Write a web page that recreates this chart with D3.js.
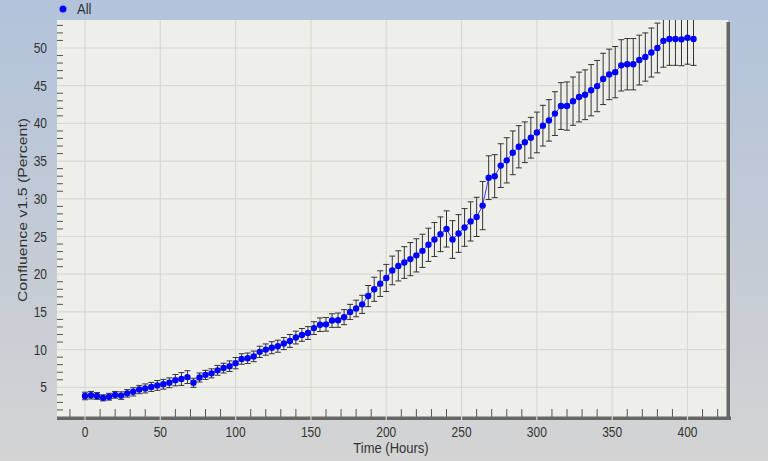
<!DOCTYPE html>
<html>
<head>
<meta charset="utf-8">
<script src="https://cdnjs.cloudflare.com/ajax/libs/d3/7.8.5/d3.min.js"></script>
<style>
  body { margin: 0; padding: 0; overflow: hidden; }
  text { font-family: "Liberation Sans", Arial, sans-serif; fill: #333; }
</style>
</head>
<body>
<script>
// time of each scan (hours)
var times = [0,4,8,12,16,20,24,28,32,36,40,44,48,52,56,60,64,68,72,76,80,84,88,92,96,100,
  104,108,112,116,120,124,128,132,136,140,144,148,152,156,160,164,168,172,176,180,184,188,192,196,200,
  204,208,212,216,220,224,228,232,236,240,244,248,252,256,260,264,268,272,276,280,284,288,292,296,300,
  304,308,312,316,320,324,328,332,336,340,344,348,352,356,360,364,368,372,376,380,384,388,392,396,400,404];

// confluence mean (percent)
var confluence = [3.85,3.95,3.85,3.6,3.75,4.0,3.9,4.2,4.4,4.7,4.85,5.05,5.25,5.4,5.6,5.95,6.1,6.35,5.6,6.3,
  6.65,6.85,7.25,7.55,7.8,8.2,8.75,8.85,9.1,9.7,10.0,10.25,10.45,10.8,11.15,11.6,11.95,12.2,12.85,13.3,
  13.35,13.85,13.9,14.3,15.0,15.45,16.0,17.1,18.0,18.75,19.5,20.5,21.1,21.55,22.0,22.5,23.1,23.9,24.6,25.3,
  26.0,24.6,25.4,26.2,27.0,27.6,29.1,32.8,33.0,34.4,35.1,36.1,36.9,37.5,38.1,38.8,39.7,40.4,41.3,42.3,
  42.3,42.95,43.5,43.8,44.4,44.95,45.9,46.5,46.8,47.7,47.85,47.85,48.4,48.8,49.4,50.0,50.95,51.2,51.2,51.15,
  51.35,51.2];

// error bar half height (percent)
var errors = [0.5,0.5,0.45,0.4,0.45,0.45,0.5,0.5,0.55,0.55,0.6,0.6,0.65,0.65,0.65,0.75,0.85,0.85,0.6,0.6,
  0.6,0.6,0.65,0.65,0.7,0.75,0.7,0.7,0.7,0.75,0.75,0.8,0.8,0.8,0.85,0.85,0.85,0.85,0.85,0.9,
  0.9,0.9,0.95,1.0,1.0,1.1,1.2,1.4,1.6,1.7,1.8,1.9,2.0,2.1,2.2,2.2,2.2,2.2,2.25,2.3,
  2.4,2.5,2.5,2.5,2.6,2.6,3.2,2.9,2.85,2.9,3.0,2.9,2.8,2.7,2.7,2.7,2.7,2.75,2.9,3.1,
  3.2,3.2,3.3,3.3,3.4,3.4,3.4,3.35,3.4,3.4,3.4,3.4,3.3,3.2,3.25,3.3,3.5,3.5,3.5,3.5,
  3.5,3.5];

var xTicks = [0,50,100,150,200,250,300,350,400];
var yTicks = [5,10,15,20,25,30,35,40,45,50];
var seriesName = "All";

var data = times.map(function(t, i) { return {t: t, v: confluence[i], e: errors[i]}; });

var W = 768, H = 461;
var plotLeft = 57, plotRight = 728, plotTop = 20, plotBottom = 418;

var x = d3.scaleLinear().domain([0, 400]).range([85, 687.5]);
var y = d3.scaleLinear().domain([5, 50]).range([387.3, 48]);

var svg = d3.select("body").append("svg")
  .attr("width", W)
  .attr("height", H);

//background gradient
var defs = svg.append("defs");
var grad = defs.append("linearGradient")
  .attr("id", "bg")
  .attr("x1", 0).attr("y1", 0).attr("x2", 0).attr("y2", 1);
grad.append("stop").attr("offset", "0%").attr("stop-color", "#b2c3db");
grad.append("stop").attr("offset", "55%").attr("stop-color", "#c4cbd5");
grad.append("stop").attr("offset", "100%").attr("stop-color", "#d4d4d4");

defs.append("clipPath").attr("id", "plotclip")
  .append("rect")
  .attr("x", plotLeft).attr("y", plotTop)
  .attr("width", plotRight - plotLeft).attr("height", plotBottom - plotTop);

svg.append("rect")
  .attr("width", W).attr("height", H)
  .attr("fill", "url(#bg)");

//plot area
svg.append("rect")
  .attr("x", plotLeft).attr("y", plotTop)
  .attr("width", plotRight - plotLeft).attr("height", plotBottom - plotTop)
  .attr("fill", "#efefea");

//grid lines
svg.selectAll("line.vgrid")
  .data(xTicks)
  .enter().append("line")
  .attr("class", "vgrid")
  .attr("x1", function(d) { return x(d); })
  .attr("x2", function(d) { return x(d); })
  .attr("y1", plotTop).attr("y2", plotBottom)
  .attr("stroke", "#d9d9d3")
  .attr("stroke-width", 1.2);

svg.selectAll("line.hgrid")
  .data(yTicks)
  .enter().append("line")
  .attr("class", "hgrid")
  .attr("x1", plotLeft).attr("x2", plotRight)
  .attr("y1", function(d) { return y(d); })
  .attr("y2", function(d) { return y(d); })
  .attr("stroke", "#d9d9d3")
  .attr("stroke-width", 1.2);

//minor ticks
var xMinor = d3.range(-10, 421, 10).filter(function(d) { return d % 50 !== 0; });
svg.selectAll("line.xminor")
  .data(xMinor)
  .enter().append("line")
  .attr("x1", function(d) { return x(d); })
  .attr("x2", function(d) { return x(d); })
  .attr("y1", 409).attr("y2", 417)
  .attr("stroke", "#555")
  .attr("stroke-width", 1);

var yMinor = d3.range(2, 54, 1).filter(function(d) { return d % 5 !== 0; });
svg.selectAll("line.yminor")
  .data(yMinor)
  .enter().append("line")
  .attr("x1", plotLeft).attr("x2", plotLeft + 6)
  .attr("y1", function(d) { return y(d); })
  .attr("y2", function(d) { return y(d); })
  .attr("stroke", "#555")
  .attr("stroke-width", 1);

//bottom and right frame bars
svg.append("rect")
  .attr("x", plotLeft).attr("y", 416.5)
  .attr("width", plotRight - plotLeft + 3).attr("height", 3.5)
  .attr("fill", "#666");
svg.append("rect")
  .attr("x", plotRight - 1.5).attr("y", 22)
  .attr("width", 3.5).attr("height", 398)
  .attr("fill", "#666");

//gaps in the bottom bar at major ticks
svg.selectAll("line.gap")
  .data(xTicks)
  .enter().append("line")
  .attr("x1", function(d) { return x(d); })
  .attr("x2", function(d) { return x(d); })
  .attr("y1", 416).attr("y2", 421)
  .attr("stroke", "#d4d4d0")
  .attr("stroke-width", 1.2);

//error bars, line and points
var plot = svg.append("g").attr("clip-path", "url(#plotclip)");

var bars = plot.selectAll("g.err")
  .data(data)
  .enter().append("g")
  .attr("stroke", "#333")
  .attr("stroke-width", 1);
bars.append("line")
  .attr("x1", function(d) { return x(d.t); })
  .attr("x2", function(d) { return x(d.t); })
  .attr("y1", function(d) { return y(d.v + d.e); })
  .attr("y2", function(d) { return y(d.v - d.e); });
bars.append("line")
  .attr("x1", function(d) { return x(d.t) - 3; })
  .attr("x2", function(d) { return x(d.t) + 3; })
  .attr("y1", function(d) { return y(d.v + d.e); })
  .attr("y2", function(d) { return y(d.v + d.e); });
bars.append("line")
  .attr("x1", function(d) { return x(d.t) - 3; })
  .attr("x2", function(d) { return x(d.t) + 3; })
  .attr("y1", function(d) { return y(d.v - d.e); })
  .attr("y2", function(d) { return y(d.v - d.e); });

var line = d3.line()
  .x(function(d) { return x(d.t); })
  .y(function(d) { return y(d.v); });
plot.append("path")
  .datum(data)
  .attr("d", line)
  .attr("fill", "none")
  .attr("stroke", "#3a3aff")
  .attr("stroke-width", 1);

plot.selectAll("circle.pt")
  .data(data)
  .enter().append("circle")
  .attr("cx", function(d) { return x(d.t); })
  .attr("cy", function(d) { return y(d.v); })
  .attr("r", 3.2)
  .attr("fill", "#0000ff");

//tick labels (the picture is a little stretched vertically)
svg.selectAll("g.ylab")
  .data(yTicks)
  .enter().append("g")
  .attr("transform", function(d) { return "translate(47," + (y(d) + 5) + ") scale(1,1.2)"; })
  .append("text")
  .attr("text-anchor", "end")
  .attr("font-size", 12)
  .text(function(d) { return d; });

svg.selectAll("g.xlab")
  .data(xTicks)
  .enter().append("g")
  .attr("transform", function(d) { return "translate(" + x(d) + ",437) scale(1,1.2)"; })
  .append("text")
  .attr("text-anchor", "middle")
  .attr("font-size", 12)
  .text(function(d) { return d; });

//axis titles
svg.append("g")
  .attr("transform", "translate(391,453) scale(1,1.15)")
  .append("text")
  .attr("text-anchor", "middle")
  .attr("font-size", 13)
  .text("Time (Hours)");

svg.append("g")
  .attr("transform", "translate(27,210) scale(1,1.22) rotate(-90)")
  .append("text")
  .attr("text-anchor", "middle")
  .attr("font-size", 13)
  .text("Confluence v1.5 (Percent)");

//legend
svg.append("circle")
  .attr("cx", 63).attr("cy", 9)
  .attr("r", 3.5)
  .attr("fill", "#0000ff");
svg.append("g")
  .attr("transform", "translate(77,14) scale(1,1.15)")
  .append("text")
  .attr("font-size", 13)
  .text(seriesName);
</script>
</body>
</html>
